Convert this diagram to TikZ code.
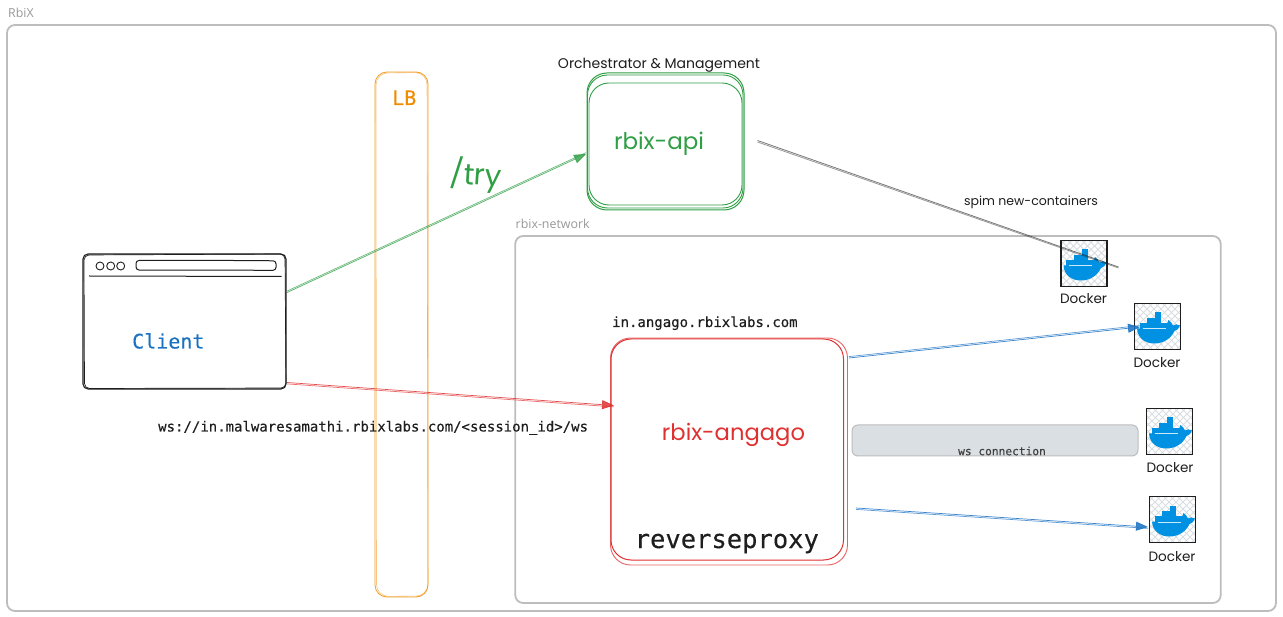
\documentclass[tikz,border=0pt]{standalone}
\usepackage{fontspec}
\usepackage{graphicx}
\usetikzlibrary{arrows.meta}
\setmainfont{Open Sans}
\setmonofont[FakeBold=0.25]{DejaVu Sans Mono}
\newfontfamily\handfont{Poppins}
\definecolor{grn}{HTML}{2F9E44}
\definecolor{rd}{HTML}{E03131}
\definecolor{blu}{HTML}{1971C2}
\definecolor{org}{HTML}{F08C00}
\definecolor{frame}{HTML}{BDBDBD}
\definecolor{ink}{HTML}{1E1E1E}
\definecolor{hatch}{HTML}{CED4DA}
\definecolor{whale}{HTML}{0091E2}
\newcommand{\fs}[1]{\fontsize{#1}{#1}\selectfont}
\newcommand{\hand}[2]{\resizebox{#1pt}{!}{\handfont #2}}
\tikzset{
  zone/.style={draw=frame,line width=1.8pt,rounded corners=8pt,inner sep=0pt},
  zonelabel/.style={text=black!40,font=\fs{12.4},inner sep=0pt,anchor=base west},
  sketch/.style={rounded corners=#1,inner sep=0pt},
  monotext/.style={font=\ttfamily\fs{14},text=ink,inner sep=0pt,anchor=base west},
  handtext/.style={text=ink,inner sep=0pt},
  dockerbox/.style={draw=ink,line width=1.6pt,inner sep=0pt,minimum width=46pt,minimum height=46pt},
  arrowline/.style={line width=0.7pt,opacity=0.7},
  tip/.style={-{Triangle[length=12pt,width=9pt]}},
}
% #1 node name, #2 centre x, #3 centre y
\newcommand{\dockericon}[3]{%
  \node[dockerbox] (#1) at (#2,#3) {};
  \begin{scope}[shift={(#2-23,#3-23)}]
    \clip (0,0) rectangle (46,46);
    \foreach \k in {-49,-42,...,49} {
      \draw[hatch!80!white,line width=.9pt] (\k,0) -- (\k+46,46);
      \draw[hatch!80!white,line width=.9pt] (\k+46,0) -- (\k,46);
    }
    \fill[whale] (2.5,25) .. controls (3,34) and (10,40) .. (20,40)
      .. controls (30,40) and (37,34) .. (40,27.5)
      .. controls (42,27) and (45,25) .. (45.5,22)
      .. controls (43,20.5) and (40,20.5) .. (38.5,22)
      .. controls (38,20) and (36,18) .. (34,16.5)
      .. controls (32,19) and (32,23) .. (33,25) -- cycle;
    \fill[whale] (5,19.5) rectangle (33,25.2);
    \fill[whale] (12.5,14.5) rectangle (26.5,20);
    \fill[whale] (20.5,9) rectangle (26.5,15);
    \draw[white,line width=0.4pt,opacity=.8] (8,25.2) -- (31,25.2);
  \end{scope}
  \draw[ink,line width=1.6pt] (#2-23,#3-23) rectangle (#2+23,#3+23);
}
\begin{document}
\begin{tikzpicture}[x=1pt,y=-1pt]
\useasboundingbox[fill=white] (0,0) rectangle (1283,617);

% outer zones
\node[zone,minimum width=1269pt,minimum height=586pt] (rbix) at (641.5,318) {};
\node[zonelabel] (rbixlabel) at (8,18) {RbiX};
\node[zone,minimum width=705.5pt,minimum height=367pt] (network) at (868,419.5) {};
\node[zonelabel] (netlabel) at (515.5,228.5) {rbix-network};

% load balancer
\node[draw=org,opacity=.85,line width=.8pt,sketch=12pt,minimum width=53pt,minimum height=525pt] (lb) at (401.5,334.5) {};
\draw[org,opacity=.5,line width=.6pt,rounded corners=12pt] (376,73) -- (427,72.5) -- (428,596) -- (376.5,596.5) -- cycle;
\node[inner sep=0pt,anchor=base west,text=org,font=\ttfamily\fs{20}] (lblabel) at (392,105) {LB};

% client window
\node[draw=ink,line width=1.1pt,sketch=5pt,minimum width=203pt,minimum height=135pt] (client) at (184.5,321.5) {};
\draw[ink,line width=.7pt,rounded corners=5pt] (84,255) -- (285,254) -- (286,388) -- (84.5,388.5) -- cycle;
\foreach \cx in {100,110.7,120.7} \draw[ink,line width=.9pt] (\cx,266) circle (4pt);
\draw[ink,line width=1pt,rounded corners=3pt] (136,260.5) -- (136,270) -- (276,270.3) -- (276,260.8) -- (205,260.3) -- cycle;
\draw[ink,line width=1pt] (89,276) -- (281.5,276.5);
\node[inner sep=0pt,anchor=base west,text=blu,font=\ttfamily\fs{20}] (clientlabel) at (132,348.5) {Client};

% rbix-api
\node[draw=grn,line width=1pt,sketch=20pt,minimum width=157pt,minimum height=137pt] (api) at (665.5,141.5) {};
\draw[grn,line width=.9pt,rounded corners=20pt] (587.5,75) rectangle (743,208);
\draw[grn,line width=.9pt,rounded corners=20pt] (589,83) rectangle (742,205);
\node[handtext,text=grn] (apilabel) at (659,144) {\hand{90}{rbix-api}};
\node[handtext] (orch) at (659,65.5) {\hand{202}{Orchestrator \& Management}};

% rbix-angago
\node[draw=rd,opacity=.75,line width=.9pt,sketch=20pt,minimum width=237pt,minimum height=227pt] (angago) at (729,451.5) {};
\draw[rd,line width=1pt,rounded corners=20pt] (611,339) rectangle (843.5,560);
\node[handtext,text=rd] (angagolabel) at (733.5,435) {\hand{143}{rbix-angago}};
\node[inner sep=0pt,anchor=base west,text=ink,font=\ttfamily\fs{25.5}] (rplabel) at (634.5,548) {reverseproxy};
\node[monotext] (host) at (612,327) {in.angago.rbixlabs.com};
\node[monotext] (wsurl) at (158,431.5) {ws://in.malwaresamathi.rbixlabs.com/<session\_id>/ws};

% docker icons
\dockericon{dockerA}{1084}{263.5}
\dockericon{dockerB}{1157.5}{326.5}
\dockericon{dockerC}{1169.5}{431.5}
\dockericon{dockerD}{1172.5}{519.5}
\node[handtext] (dockerAl) at (1083.5,299) {\hand{47}{Docker}};
\node[handtext] (dockerBl) at (1157,362.5) {\hand{47}{Docker}};
\node[handtext] (dockerCl) at (1170,467.5) {\hand{47}{Docker}};
\node[handtext] (dockerDl) at (1172,556.5) {\hand{47}{Docker}};

% ws connection bar
\node[draw=frame,fill=hatch!75!white,line width=1pt,sketch=6pt,minimum width=286pt,minimum height=31pt] (wsbar) at (995,440.5) {};
\node[inner sep=0pt,text=ink!85,font=\ttfamily\fs{11.2}] (wslabel) at (1002,451) {ws connection};

% connector anchors
\coordinate (clientG) at (287,292.5);
\coordinate (clientR) at (287,382.5);
\coordinate (apiIn) at (586,154);
\coordinate (apiOut) at (757.5,140.5);
\coordinate (dockerAin) at (1118.5,267);
\coordinate (angagoIn) at (614,405.5);
\coordinate (angagoB) at (849,358);
\coordinate (angagoD) at (856,508);
\coordinate (dockerBin) at (1140,327);
\coordinate (dockerDin) at (1148,527);

% connectors
\draw[grn,arrowline,tip,opacity=.8] (clientG) -- (apiIn);
\draw[grn,arrowline] ([yshift=1.4pt]clientG) -- ([yshift=1.4pt]apiIn);
\draw[ink,line width=.8pt,opacity=.6] (apiOut) -- (dockerAin);
\draw[ink,line width=.8pt,opacity=.45] ([yshift=-1.5pt]apiOut) -- ([yshift=-1pt]dockerAin);
\draw[rd,arrowline,tip,opacity=.85] (clientR) -- (angagoIn);
\draw[rd,arrowline] ([yshift=-1.4pt]clientR) -- ([yshift=-1.4pt]angagoIn);
\draw[blu,arrowline,tip,opacity=.85] (angagoB) -- (dockerBin);
\draw[blu,arrowline] ([yshift=1.4pt]angagoB) -- ([yshift=1.4pt]dockerBin);
\draw[blu,arrowline,tip,opacity=.85] (angagoD) -- (dockerDin);
\draw[blu,arrowline] ([yshift=-1.4pt]angagoD) -- ([yshift=-1.4pt]dockerDin);

% free labels
\node[handtext,text=grn,rotate=-4] (trylabel) at (476,175) {\hand{52}{/try}};
\node[handtext] (spim) at (1031,202) {\hand{134}{spim new-containers}};
\end{tikzpicture}
\end{document}
